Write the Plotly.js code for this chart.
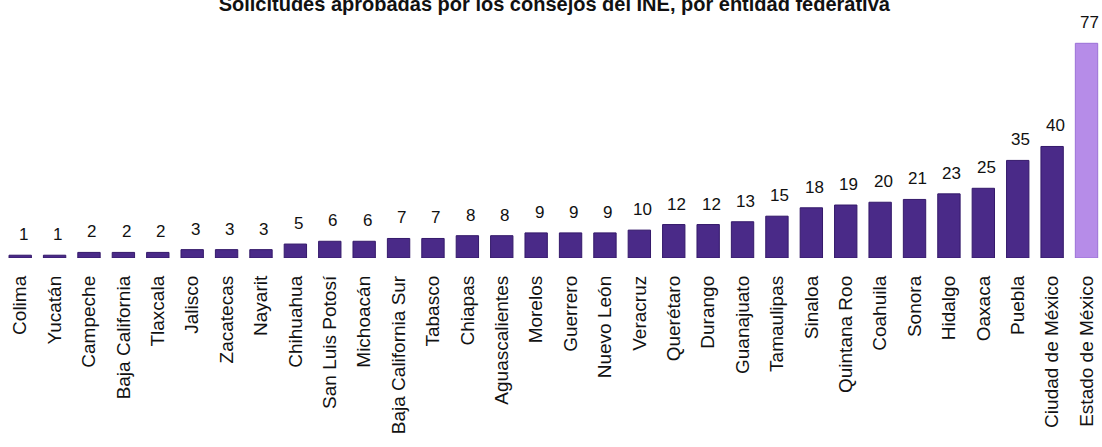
<!DOCTYPE html>
<html>
<head>
<meta charset="utf-8">
<script src="https://cdn.plot.ly/plotly-3.0.1.min.js"></script>
<style>html,body{margin:0;padding:0;overflow:hidden;background:#fff}</style>
</head>
<body>
<div id="chart" style="width:1102px;height:447px"></div>
<script>
var categories = ["Colima","Yucatán","Campeche","Baja California","Tlaxcala","Jalisco","Zacatecas","Nayarit","Chihuahua","San Luis Potosí","Michoacán","Baja California Sur","Tabasco","Chiapas","Aguascalientes","Morelos","Guerrero","Nuevo León","Veracruz","Querétaro","Durango","Guanajuato","Tamaulipas","Sinaloa","Quintana Roo","Coahuila","Sonora","Hidalgo","Oaxaca","Puebla","Ciudad de México","Estado de México"];
var values = [1,1,2,2,2,3,3,3,5,6,6,7,7,8,8,9,9,9,10,12,12,13,15,18,19,20,21,23,25,35,40,77];
var titleText = "Solicitudes aprobadas por los consejos del INE, por entidad federativa";

var darkColor = "#4a2a88";
var lightColor = "#b68ce8";
var colors = categories.map(function(c, i){ return i === categories.length - 1 ? lightColor : darkColor; });
var lineColors = categories.map(function(c, i){ return i === categories.length - 1 ? "#9a70d6" : "#34196a"; });

var trace = {
  type: "bar",
  x: categories,
  y: values,
  width: 0.65,
  marker: {color: colors, line: {color: lineColors, width: 1}},
  hoverinfo: "x+y"
};

var annotations = categories.map(function(c, i){
  return {
    x: c, y: values[i], xref: "x", yref: "y",
    text: String(values[i]), showarrow: false,
    yanchor: "bottom", yshift: 9, xshift: 3,
    font: {family: "Arial, Liberation Sans, sans-serif", size: 17, color: "#111"}
  };
});

var layout = {
  width: 1102, height: 447,
  margin: {l: 3, r: 0, t: 21, b: 189},
  paper_bgcolor: "#fff", plot_bgcolor: "#fff",
  showlegend: false,
  title: {
    text: "<b>" + titleText + "</b>",
    x: 0.503, xanchor: "center",
    y: 0.992, yref: "container", yanchor: "middle",
    font: {family: "Arial, Liberation Sans, sans-serif", size: 20, color: "#111"}
  },
  xaxis: {
    type: "category",
    range: [-0.5, 31.45],
    showgrid: false, zeroline: false, showline: false,
    ticks: "", tickangle: -90,
    ticklabelstandoff: 13,
    tickfont: {family: "Arial, Liberation Sans, sans-serif", size: 19, color: "#111"}
  },
  yaxis: {
    range: [0, 85],
    showgrid: false, zeroline: false, showline: false,
    showticklabels: false, ticks: ""
  },
  annotations: annotations
};

Plotly.newPlot("chart", [trace], layout, {displayModeBar: false, staticPlot: true});
</script>
</body>
</html>
